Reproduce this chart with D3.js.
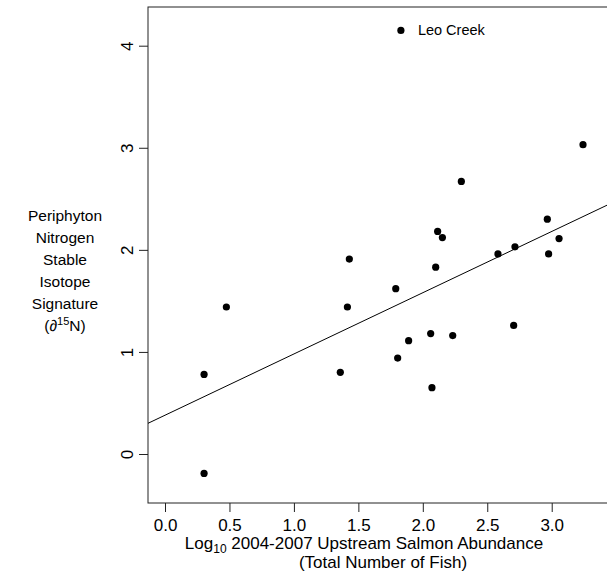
<!DOCTYPE html>
<html><head><meta charset="utf-8">
<script src="https://cdn.jsdelivr.net/npm/d3@7"></script>
<style>
html,body{margin:0;padding:0;background:#fff;}
svg text{font-family:"Liberation Sans",Arial,sans-serif;fill:#000;}
</style></head>
<body>
<script>
// Log10 upstream salmon abundance (x) and periphyton d15N (y)
const salmonLog = [3.243, 2.299, 2.115, 2.152, 2.966, 3.057, 2.715, 2.583, 2.976, 1.430, 2.100, 1.790,
                   0.476, 1.415, 2.705, 1.890, 2.061, 2.232, 1.805, 0.303, 1.360, 2.071, 0.303];
const d15N      = [3.03, 2.67, 2.18, 2.12, 2.30, 2.11, 2.03, 1.96, 1.96, 1.91, 1.83, 1.62,
                   1.44, 1.44, 1.26, 1.11, 1.18, 1.16, 0.94, 0.78, 0.80, 0.65, -0.19];
const fitLine = {intercept: 0.38, slope: 0.60};
const xTicks = [0, 0.5, 1.0, 1.5, 2.0, 2.5, 3.0];
const yTicks = [0, 1, 2, 3, 4];
const legendLabel = "Leo Creek";
const legendPoint = [1.83, 4.15];

const W = 607, H = 588;
const svg = d3.select("body").append("svg").attr("width", W).attr("height", H);

const x = d3.scaleLinear().domain([-0.132, 3.64]).range([148, 634.2]);
const y = d3.scaleLinear().domain([-0.48, 4.379]).range([503, 7]);

const stroke = "#222";

// plot box
svg.append("rect")
  .attr("x", x.range()[0]).attr("y", y.range()[1])
  .attr("width", x.range()[1] - x.range()[0])
  .attr("height", y.range()[0] - y.range()[1])
  .attr("fill", "none").attr("stroke", stroke).attr("stroke-width", 1);

// x axis
const xAxis = d3.axisBottom(x).tickValues(xTicks).tickFormat(d3.format(".1f")).tickSize(9).tickPadding(6);
const gx = svg.append("g").attr("transform", `translate(0,${y.range()[0]})`).call(xAxis);
gx.select(".domain").remove();
gx.selectAll("line").attr("stroke", stroke);
gx.selectAll("text").style("font-size", "17px").attr("dy", "0.75em");

// y axis
const yAxis = d3.axisLeft(y).tickValues(yTicks).tickFormat(d3.format("d")).tickSize(9).tickPadding(0);
const gy = svg.append("g").attr("transform", `translate(${x.range()[0]},0)`).call(yAxis);
gy.select(".domain").remove();
gy.selectAll("line").attr("stroke", stroke);
gy.selectAll("text")
  .style("font-size", "17px")
  .attr("x", null).attr("dy", null)
  .attr("text-anchor", "middle")
  .attr("transform", "translate(-21,0) rotate(-90)")
  .attr("dominant-baseline", "central");

// clip for line
svg.append("clipPath").attr("id", "clip").append("rect")
  .attr("x", x.range()[0]).attr("y", y.range()[1])
  .attr("width", x.range()[1] - x.range()[0]).attr("height", y.range()[0] - y.range()[1]);

const xd = x.domain();
svg.append("line")
  .attr("clip-path", "url(#clip)")
  .attr("x1", x(xd[0])).attr("y1", y(fitLine.intercept + fitLine.slope * xd[0]))
  .attr("x2", x(xd[1])).attr("y2", y(fitLine.intercept + fitLine.slope * xd[1]))
  .attr("stroke", "#000").attr("stroke-width", 1);

// points
svg.append("g").selectAll("circle").data(d3.zip(salmonLog, d15N)).join("circle")
  .attr("cx", d => x(d[0])).attr("cy", d => y(d[1])).attr("r", 3.6).attr("fill", "#000");

// legend
svg.append("circle").attr("cx", x(legendPoint[0])).attr("cy", y(legendPoint[1])).attr("r", 3.6).attr("fill", "#000");
svg.append("text").attr("x", x(legendPoint[0]) + 17).attr("y", y(legendPoint[1]))
  .attr("dominant-baseline", "central").style("font-size", "14.5px").text(legendLabel);

// y label
const yLab = ["Periphyton", "Nitrogen", "Stable", "Isotope", "Signature"];
const yl = svg.append("g");
yLab.forEach((t, i) => {
  yl.append("text").attr("x", 65).attr("y", 221 + i * 22).attr("text-anchor", "middle")
    .style("font-size", "15.5px").text(t);
});
const last = yl.append("text").attr("x", 65).attr("y", 221 + 5 * 22).attr("text-anchor", "middle").style("font-size", "15.5px");
last.append("tspan").text("(\u2202");
last.append("tspan").attr("dy", -6).style("font-size", "11px").text("15");
last.append("tspan").attr("dy", 6).text("N)");

// x label
const xl1 = svg.append("text").attr("x", 364).attr("y", 549).attr("text-anchor", "middle").style("font-size", "17px");
xl1.append("tspan").text("Log");
xl1.append("tspan").attr("dy", 4).style("font-size", "12px").text("10");
xl1.append("tspan").attr("dy", -4).text(" 2004-2007 Upstream Salmon Abundance");
svg.append("text").attr("x", 383).attr("y", 568).attr("text-anchor", "middle").style("font-size", "17px")
  .text("(Total Number of Fish)");
</script>
</body></html>
